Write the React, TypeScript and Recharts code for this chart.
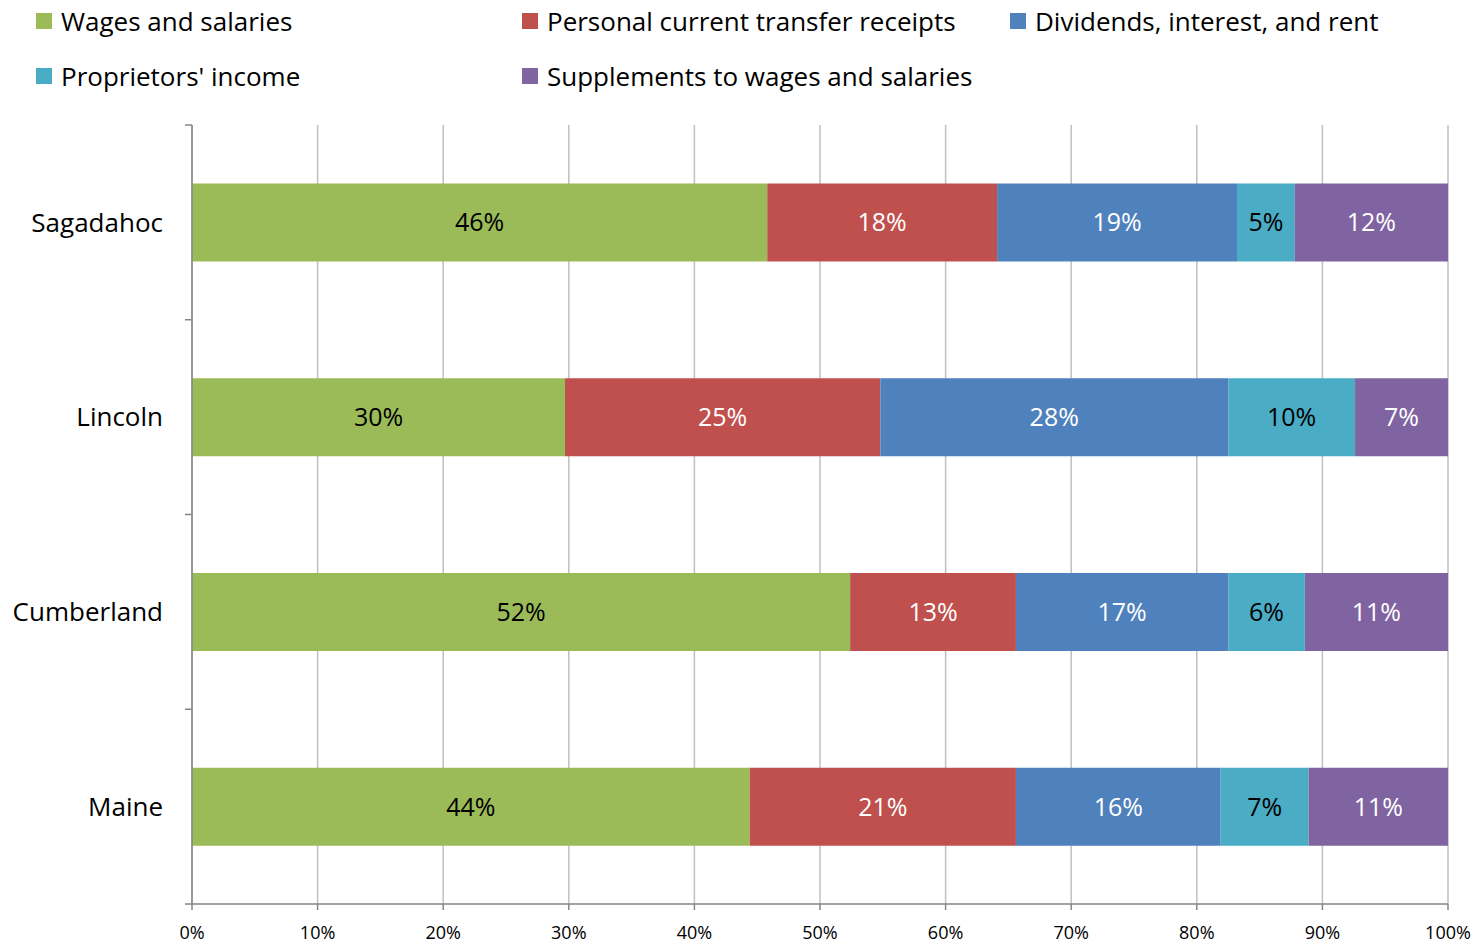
import { BarChart, Bar, XAxis, YAxis, CartesianGrid, LabelList } from "recharts";

const counties = ["Sagadahoc", "Lincoln", "Cumberland", "Maine"];

const wages = [45.8, 29.7, 52.4, 44.4];
const transfers = [18.3, 25.1, 13.2, 21.2];
const dividends = [19.1, 27.7, 16.9, 16.3];
const proprietors = [4.6, 10.1, 6.1, 7.0];
const supplements = [12.2, 7.4, 11.4, 11.1];

const xTicks = [0, 10, 20, 30, 40, 50, 60, 70, 80, 90, 100];
const boundaryTicks = [0, 1, 2, 3, 4];

const series = [
  { key: "wages", name: "Wages and salaries", color: "#9BBB59", text: "#000000", values: wages },
  { key: "transfers", name: "Personal current transfer receipts", color: "#C0504D", text: "#ffffff", values: transfers },
  { key: "dividends", name: "Dividends, interest, and rent", color: "#4F81BD", text: "#ffffff", values: dividends },
  { key: "proprietors", name: "Proprietors' income", color: "#4BACC6", text: "#000000", values: proprietors },
  { key: "supplements", name: "Supplements to wages and salaries", color: "#8064A2", text: "#ffffff", values: supplements },
];

// "slot" is the category's centre on a 0..4 scale, used only for the boundary tick marks axis
const data = counties.map((county, i) => {
  const row: Record<string, string | number> = { county, slot: i + 0.5 };
  series.forEach((s) => {
    row[s.key] = s.values[i];
  });
  return row;
});

const font = "'Open Sans', sans-serif";

// legend laid out like the Excel one: 3 columns, 2 rows
const legendPos = [
  { left: 36, top: 21 },
  { left: 522, top: 21 },
  { left: 1010, top: 21 },
  { left: 36, top: 76 },
  { left: 522, top: 76 },
];

export default function App() {
  return (
    <div style={{ position: "absolute", left: 0, top: 0, width: 1480, height: 943, background: "#fff", fontFamily: font }}>
      {series.map((s, i) => (
        <div
          key={s.key}
          style={{
            position: "absolute",
            left: legendPos[i].left,
            top: legendPos[i].top - 18,
            height: 36,
            display: "flex",
            alignItems: "center",
            fontSize: 26,
            color: "#000",
            whiteSpace: "nowrap",
          }}
        >
          <span style={{ display: "inline-block", width: 16, height: 16, background: s.color, marginRight: 9 }} />
          {s.name}
        </div>
      ))}
      <BarChart
        width={1480}
        height={943}
        data={data}
        layout="vertical"
        barCategoryGap="30%"
        margin={{ top: 125, right: 32, bottom: 0, left: 0 }}
        style={{ fontFamily: font }}
      >
        <CartesianGrid horizontal={false} stroke="#BFBFBF" strokeWidth={1.5} />
        <XAxis
          type="number"
          domain={[0, 100]}
          ticks={xTicks}
          tickFormatter={(v) => `${v}%`}
          height={39}
          stroke="#868686"
          strokeWidth={1.5}
          tickSize={6}
          tick={{ fontSize: 18, fill: "#000", dy: 14 }}
          interval={0}
        />
        <YAxis
          type="category"
          dataKey="county"
          yAxisId="b"
          width={184}
          axisLine={false}
          tickLine={false}
          tick={{ fontSize: 26, fill: "#000", dx: -13 }}
        />
        {/* boundary tick marks between categories, like Excel */}
        <YAxis
          type="number"
          dataKey="slot"
          yAxisId="a"
          domain={[0, 4]}
          allowDataOverflow
          ticks={boundaryTicks}
          reversed
          width={8}
          stroke="#868686"
          strokeWidth={1.5}
          tickSize={7}
          tickFormatter={() => ""}
        />
        {series.map((s) => (
          <Bar key={s.key} dataKey={s.key} name={s.name} stackId="a" yAxisId="b" fill={s.color} isAnimationActive={false}>
            <LabelList
              dataKey={s.key}
              position="center"
              formatter={(v: number) => `${Math.round(v)}%`}
              style={{ fontSize: 25, fill: s.text, fontFamily: font }}
            />
          </Bar>
        ))}
      </BarChart>
    </div>
  );
}
